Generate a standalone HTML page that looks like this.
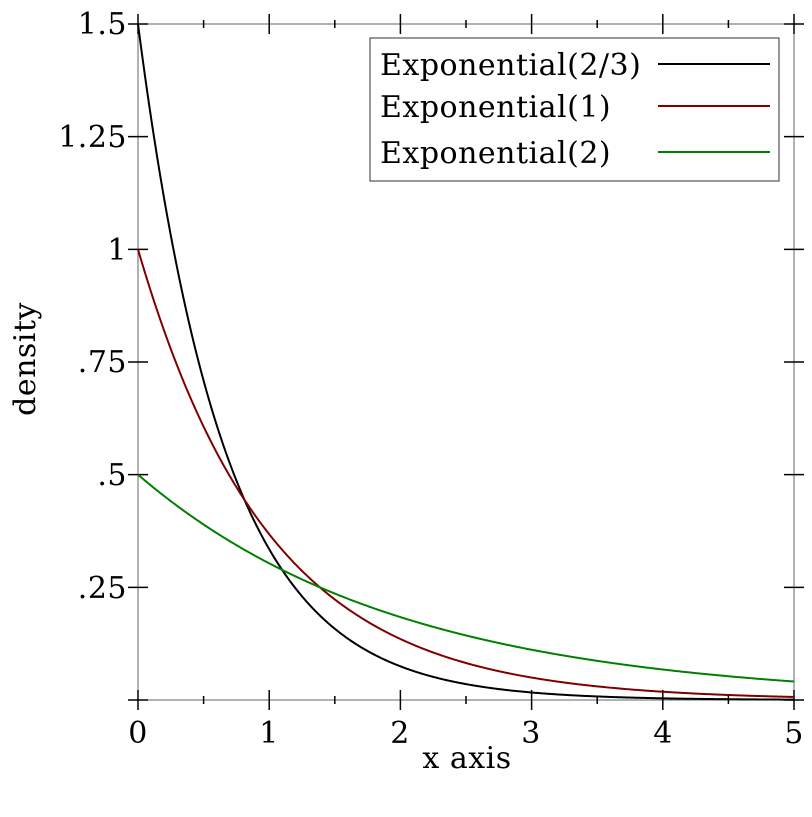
<!DOCTYPE html>
<html><head><meta charset="utf-8"><style>
body{margin:0;background:#fff;}
svg text{font-family:"DejaVu Serif","Liberation Serif",serif;font-size:30px;fill:#000;letter-spacing:0.5px;}
</style></head><body>
<svg id="s" width="812" height="812" viewBox="0 0 812 812" xmlns="http://www.w3.org/2000/svg">
<rect x="0" y="0" width="812" height="812" fill="#fff"/>
<rect x="138" y="24" width="656" height="676" fill="none" stroke="#000" stroke-width="1" opacity="0.6"/>
<g id="ticks" stroke="#000" stroke-width="1.5"></g>
<path id="p1" fill="none" stroke="#000" stroke-width="2"/>
<path id="p2" fill="none" stroke="#800000" stroke-width="2"/>
<path id="p3" fill="none" stroke="#008000" stroke-width="2"/>
<g text-anchor="middle">
<text x="138" y="743">0</text><text x="269" y="743">1</text><text x="400" y="743">2</text>
<text x="531" y="743">3</text><text x="663" y="743">4</text><text x="794" y="743">5</text>
<text x="467" y="768">x axis</text>
</g>
<g text-anchor="end">
<text x="127" y="34">1.5</text><text x="127" y="147">1.25</text><text x="127" y="260">1</text>
<text x="127" y="372">.75</text><text x="127" y="485">.5</text><text x="127" y="598">.25</text>
</g>
<text transform="translate(35,359) rotate(-90)" text-anchor="middle">density</text>
<rect x="370" y="38" width="409" height="143" fill="#fff" stroke="#000" stroke-width="1" opacity="0.8"/>
<text x="380" y="75">Exponential(2/3)</text>
<text x="380" y="117">Exponential(1)</text>
<text x="380" y="163">Exponential(2)</text>
<line x1="658" y1="64" x2="770" y2="64" stroke="#000" stroke-width="2"/>
<line x1="658" y1="106" x2="770" y2="106" stroke="#800000" stroke-width="2"/>
<line x1="658" y1="152" x2="770" y2="152" stroke="#008000" stroke-width="2"/>
</svg>
<script>
var X=function(v){return 138+v*131.2},Y=function(v){return 700-v*450.67};
function mk(f){var d="";for(var i=0;i<=500;i++){var x=i/100;d+=(i?"L":"M")+X(x).toFixed(2)+" "+Y(f(x)).toFixed(2);}return d;}
document.getElementById("p1").setAttribute("d",mk(function(x){return 1.5*Math.exp(-1.5*x)}));
document.getElementById("p2").setAttribute("d",mk(function(x){return Math.exp(-x)}));
document.getElementById("p3").setAttribute("d",mk(function(x){return 0.5*Math.exp(-x/2)}));
var g=document.getElementById("ticks"),h="";
for(var i=0;i<=10;i++){var x=X(i/2),L=(i%2==0)?10:4;
h+='<line x1="'+x+'" y1="'+(700-L)+'" x2="'+x+'" y2="'+(700+L)+'"/>';
h+='<line x1="'+x+'" y1="'+(24-L)+'" x2="'+x+'" y2="'+(24+L)+'"/>';}
for(var j=0;j<=6;j++){var y=Y(j*0.25);
h+='<line x1="128" y1="'+y+'" x2="148" y2="'+y+'"/>';
h+='<line x1="784" y1="'+y+'" x2="804" y2="'+y+'"/>';}
g.innerHTML=h;
</script>
</body></html>
